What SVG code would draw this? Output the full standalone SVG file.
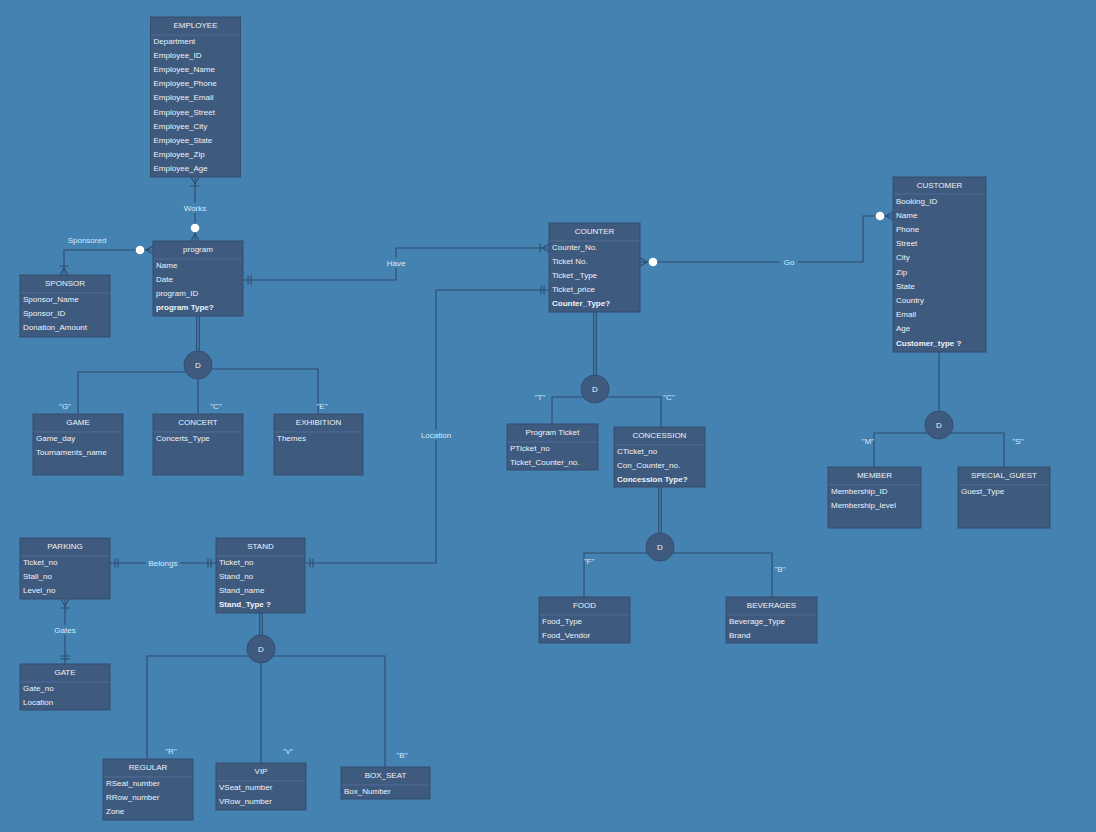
<svg xmlns="http://www.w3.org/2000/svg" width="1096" height="832" viewBox="0 0 1096 832">
  <style>
    text { font-family: "Liberation Sans", Arial, sans-serif; font-size: 8px; dominant-baseline: central; }
    .box { fill: #3f5a7f; stroke: #344d70; stroke-width: 1; }
    .sep { stroke: #56709a; stroke-width: 0.8; }
    .hd { fill: #eef3f8; text-anchor: middle; }
    .at { fill: #eef3f8; }
    .b { font-weight: bold; }
    .ln { fill: none; stroke: #2f4a6c; stroke-width: 1.1; }
    .lbl { fill: #d3eaff; text-anchor: middle; }
    .lblbg { fill: #4382b1; }
    .isa { fill: #3f5a7f; stroke: #344d70; stroke-width: 1; }
  </style>
  <defs>
    <!-- crow's foot with bar: one or many -->
    <marker id="oneMany" markerUnits="userSpaceOnUse" viewBox="-12 -6 13 12" refX="0" refY="0" markerWidth="13" markerHeight="12" orient="auto-start-reverse" overflow="visible">
      <path d="M0,-4 L-7,0 L0,4 M-9,-4.5 L-9,4.5" fill="none" stroke="#2f4a6c" stroke-width="1.1"/>
    </marker>
    <!-- crow's foot with circle: zero or many -->
    <marker id="zeroMany" markerUnits="userSpaceOnUse" viewBox="-18 -6 19 12" refX="0" refY="0" markerWidth="19" markerHeight="12" orient="auto-start-reverse" overflow="visible">
      <path d="M0,-4 L-7,0 L0,4" fill="none" stroke="#2f4a6c" stroke-width="1.1"/>
      <circle cx="-13" cy="0" r="4.3" fill="#ffffff"/>
    </marker>
    <!-- double bar: one and only one -->
    <marker id="oneOne" markerUnits="userSpaceOnUse" viewBox="-12 -6 13 12" refX="0" refY="0" markerWidth="13" markerHeight="12" orient="auto-start-reverse" overflow="visible">
      <path d="M-5,-4.5 L-5,4.5 M-8,-4.5 L-8,4.5" fill="none" stroke="#2f4a6c" stroke-width="1.1"/>
    </marker>
  </defs>

  <rect x="0" y="0" width="1096" height="832" fill="#4382b1"/>

  <!-- relationship and hierarchy connectors -->
  <g id="connectors">
    <path class="ln" d="M195,177 L195,241" marker-start="url(#oneMany)" marker-end="url(#zeroMany)"/>
    <path class="ln" d="M153,250 L64,250 L64,275" marker-start="url(#zeroMany)" marker-end="url(#oneMany)"/>
    <path class="ln" d="M243,280 L396,280 L396,248 L549,248" marker-start="url(#oneOne)" marker-end="url(#oneMany)"/>
    <path class="ln" d="M305,563 L436,563 L436,290 L549,290" marker-start="url(#oneOne)" marker-end="url(#oneOne)"/>
    <path class="ln" d="M640,262 L863,262 L863,216 L893,216" marker-start="url(#zeroMany)" marker-end="url(#zeroMany)"/>
    <path class="ln" d="M110,563 L216,563" marker-start="url(#oneOne)" marker-end="url(#oneOne)"/>
    <path class="ln" d="M65,599 L65,664" marker-start="url(#oneMany)" marker-end="url(#oneOne)"/>

    <!-- program subtypes -->
    <path class="ln" d="M196.7,316 L196.7,352 M199.3,316 L199.3,352"/>
    <path class="ln" d="M198,372 L78,372 L78,414 M198,365 L198,414 M198,369 L318,369 L318,414"/>
    <!-- counter subtypes -->
    <path class="ln" d="M593.7,312 L593.7,376 M596.3,312 L596.3,376"/>
    <path class="ln" d="M595,397 L552,397 L552,424 M595,397 L661,397 L661,427"/>
    <!-- customer subtypes -->
    <path class="ln" d="M939,352 L939,412"/>
    <path class="ln" d="M939,433 L874,433 L874,467 M939,433 L1004,433 L1004,467"/>
    <!-- concession subtypes -->
    <path class="ln" d="M658.7,487 L658.7,534 M661.3,487 L661.3,534"/>
    <path class="ln" d="M660,553 L584,553 L584,597 M660,553 L772,553 L772,597"/>
    <!-- stand subtypes -->
    <path class="ln" d="M259.7,613 L259.7,636 M262.3,613 L262.3,636"/>
    <path class="ln" d="M261,656 L147,656 L147,759 M261,649 L261,763 M261,656 L385,656 L385,767"/>

    <!-- relationship labels -->
    <rect class="lblbg" x="181" y="203" width="28" height="10"/>
    <text class="lbl" x="195" y="208">Works</text>
    <text class="lbl" x="87" y="240">Sponsored</text>
    <rect class="lblbg" x="384" y="258" width="24" height="10"/>
    <text class="lbl" x="396" y="263">Have</text>
    <rect class="lblbg" x="418" y="430" width="36" height="10"/>
    <text class="lbl" x="436" y="435">Location</text>
    <rect class="lblbg" x="780" y="257" width="18" height="10"/>
    <text class="lbl" x="789" y="262">Go</text>
    <rect class="lblbg" x="146" y="558" width="34" height="10"/>
    <text class="lbl" x="163" y="563">Belongs</text>
    <rect class="lblbg" x="51" y="625" width="28" height="10"/>
    <text class="lbl" x="65" y="630">Gates</text>

    <!-- discriminator values -->
    <text class="lbl" x="65" y="406">"G"</text>
    <text class="lbl" x="216" y="406">"C"</text>
    <text class="lbl" x="322" y="406">"E"</text>
    <text class="lbl" x="540" y="397">"T"</text>
    <text class="lbl" x="669" y="397">"C"</text>
    <text class="lbl" x="868" y="441">"M"</text>
    <text class="lbl" x="1018" y="441">"S"</text>
    <text class="lbl" x="589" y="561">"F"</text>
    <text class="lbl" x="780" y="569">"B"</text>
    <text class="lbl" x="171" y="751">"R"</text>
    <text class="lbl" x="288" y="751">"v"</text>
    <text class="lbl" x="402" y="755">"B"</text>
  </g>

  <!-- disjoint specialisation circles -->
  <g id="isa-program"><circle class="isa" cx="198" cy="365" r="14"/><text class="hd" x="198" y="365">D</text></g>
  <g id="isa-counter"><circle class="isa" cx="595" cy="389" r="14"/><text class="hd" x="595" y="389">D</text></g>
  <g id="isa-customer"><circle class="isa" cx="939" cy="425" r="14"/><text class="hd" x="939" y="425">D</text></g>
  <g id="isa-concession"><circle class="isa" cx="660" cy="547" r="14"/><text class="hd" x="660" y="547">D</text></g>
  <g id="isa-stand"><circle class="isa" cx="261" cy="649" r="14"/><text class="hd" x="261" y="649">D</text></g>

  <!-- entities -->
  <g id="employee">
    <rect class="box" x="150.5" y="17" width="90" height="160"/>
    <line class="sep" x1="151" y1="35" x2="240" y2="35"/>
    <text class="hd" x="195.5" y="25">EMPLOYEE</text>
    <text class="at" x="153.5" y="41">Department</text>
    <text class="at" x="153.5" y="55.2">Employee_ID</text>
    <text class="at" x="153.5" y="69.4">Employee_Name</text>
    <text class="at" x="153.5" y="83.6">Employee_Phone</text>
    <text class="at" x="153.5" y="97.8">Employee_Email</text>
    <text class="at" x="153.5" y="112">Employee_Street</text>
    <text class="at" x="153.5" y="126.2">Employee_City</text>
    <text class="at" x="153.5" y="140.4">Employee_State</text>
    <text class="at" x="153.5" y="154.6">Employee_Zip</text>
    <text class="at" x="153.5" y="168.8">Employee_Age</text>
  </g>

  <g id="program">
    <rect class="box" x="153" y="241" width="90" height="75"/>
    <line class="sep" x1="153.5" y1="259" x2="242.5" y2="259"/>
    <text class="hd" x="198" y="249">program</text>
    <text class="at" x="156" y="265">Name</text>
    <text class="at" x="156" y="279.2">Date</text>
    <text class="at" x="156" y="293.4">program_ID</text>
    <text class="at b" x="156" y="307.6">program Type?</text>
  </g>

  <g id="sponsor">
    <rect class="box" x="20" y="275" width="90" height="62"/>
    <line class="sep" x1="20.5" y1="293" x2="109.5" y2="293"/>
    <text class="hd" x="65" y="283.5">SPONSOR</text>
    <text class="at" x="23" y="299">Sponsor_Name</text>
    <text class="at" x="23" y="313.2">Sponsor_ID</text>
    <text class="at" x="23" y="327.4">Donation_Amount</text>
  </g>

  <g id="counter">
    <rect class="box" x="549" y="223" width="91" height="89"/>
    <line class="sep" x1="549.5" y1="241" x2="639.5" y2="241"/>
    <text class="hd" x="594.5" y="231">COUNTER</text>
    <text class="at" x="552" y="247">Counter_No.</text>
    <text class="at" x="552" y="261.2">Ticket No.</text>
    <text class="at" x="552" y="275.4">Ticket _Type</text>
    <text class="at" x="552" y="289.6">Ticket_price</text>
    <text class="at b" x="552" y="303.8">Counter_Type?</text>
  </g>

  <g id="customer">
    <rect class="box" x="893" y="177" width="93" height="175"/>
    <line class="sep" x1="893.5" y1="194" x2="985.5" y2="194"/>
    <text class="hd" x="939.5" y="185">CUSTOMER</text>
    <text class="at" x="896" y="201">Booking_ID</text>
    <text class="at" x="896" y="215.2">Name</text>
    <text class="at" x="896" y="229.4">Phone</text>
    <text class="at" x="896" y="243.6">Street</text>
    <text class="at" x="896" y="257.8">City</text>
    <text class="at" x="896" y="272">Zip</text>
    <text class="at" x="896" y="286.2">State</text>
    <text class="at" x="896" y="300.4">Country</text>
    <text class="at" x="896" y="314.6">Email</text>
    <text class="at" x="896" y="328.8">Age</text>
    <text class="at b" x="896" y="343">Customer_type ?</text>
  </g>

  <g id="game">
    <rect class="box" x="33" y="414" width="90" height="61"/>
    <line class="sep" x1="33.5" y1="432" x2="122.5" y2="432"/>
    <text class="hd" x="78" y="422">GAME</text>
    <text class="at" x="36" y="438">Game_day</text>
    <text class="at" x="36" y="452.2">Tournaments_name</text>
  </g>

  <g id="concert">
    <rect class="box" x="153" y="414" width="90" height="61"/>
    <line class="sep" x1="153.5" y1="432" x2="242.5" y2="432"/>
    <text class="hd" x="198" y="422">CONCERT</text>
    <text class="at" x="156" y="438">Concerts_Type</text>
  </g>

  <g id="exhibition">
    <rect class="box" x="274" y="414" width="89" height="61"/>
    <line class="sep" x1="274.5" y1="432" x2="362.5" y2="432"/>
    <text class="hd" x="318.5" y="422">EXHIBITION</text>
    <text class="at" x="277" y="438">Themes</text>
  </g>

  <g id="program-ticket">
    <rect class="box" x="507" y="424" width="91" height="46"/>
    <line class="sep" x1="507.5" y1="442" x2="597.5" y2="442"/>
    <text class="hd" x="552.5" y="432">Program Ticket</text>
    <text class="at" x="510" y="448">PTicket_no</text>
    <text class="at" x="510" y="462.2">Ticket_Counter_no.</text>
  </g>

  <g id="concession">
    <rect class="box" x="614" y="427" width="91" height="60"/>
    <line class="sep" x1="614.5" y1="445" x2="704.5" y2="445"/>
    <text class="hd" x="659.5" y="435">CONCESSION</text>
    <text class="at" x="617" y="451">CTicket_no</text>
    <text class="at" x="617" y="465.2">Con_Counter_no.</text>
    <text class="at b" x="617" y="479.4">Concession Type?</text>
  </g>

  <g id="member">
    <rect class="box" x="828" y="467" width="93" height="61"/>
    <line class="sep" x1="828.5" y1="485" x2="920.5" y2="485"/>
    <text class="hd" x="874.5" y="475">MEMBER</text>
    <text class="at" x="831" y="491">Membership_ID</text>
    <text class="at" x="831" y="505.2">Membership_level</text>
  </g>

  <g id="special-guest">
    <rect class="box" x="958" y="467" width="92" height="61"/>
    <line class="sep" x1="958.5" y1="485" x2="1049.5" y2="485"/>
    <text class="hd" x="1004" y="475">SPECIAL_GUEST</text>
    <text class="at" x="961" y="491">Guest_Type</text>
  </g>

  <g id="parking">
    <rect class="box" x="20" y="538" width="90" height="61"/>
    <line class="sep" x1="20.5" y1="556" x2="109.5" y2="556"/>
    <text class="hd" x="65" y="546.5">PARKING</text>
    <text class="at" x="23" y="562">Ticket_no</text>
    <text class="at" x="23" y="576.2">Stall_no</text>
    <text class="at" x="23" y="590.4">Level_no</text>
  </g>

  <g id="stand">
    <rect class="box" x="216" y="538" width="89" height="75"/>
    <line class="sep" x1="216.5" y1="556" x2="304.5" y2="556"/>
    <text class="hd" x="260.5" y="546.5">STAND</text>
    <text class="at" x="219" y="562">Ticket_no</text>
    <text class="at" x="219" y="576.2">Stand_no</text>
    <text class="at" x="219" y="590.4">Stand_name</text>
    <text class="at b" x="219" y="604.6">Stand_Type ?</text>
  </g>

  <g id="gate">
    <rect class="box" x="20" y="664" width="90" height="46"/>
    <line class="sep" x1="20.5" y1="682" x2="109.5" y2="682"/>
    <text class="hd" x="65" y="672">GATE</text>
    <text class="at" x="23" y="688">Gate_no</text>
    <text class="at" x="23" y="702.2">Location</text>
  </g>

  <g id="regular">
    <rect class="box" x="103" y="759" width="90" height="61"/>
    <line class="sep" x1="103.5" y1="777" x2="192.5" y2="777"/>
    <text class="hd" x="148" y="767.5">REGULAR</text>
    <text class="at" x="106" y="783.5">RSeat_number</text>
    <text class="at" x="106" y="797.7">RRow_number</text>
    <text class="at" x="106" y="811.9">Zone</text>
  </g>

  <g id="vip">
    <rect class="box" x="216" y="763" width="90" height="47"/>
    <line class="sep" x1="216.5" y1="781" x2="305.5" y2="781"/>
    <text class="hd" x="261" y="771.5">VIP</text>
    <text class="at" x="219" y="787.5">VSeat_number</text>
    <text class="at" x="219" y="801.7">VRow_number</text>
  </g>

  <g id="box-seat">
    <rect class="box" x="341" y="767" width="89" height="32"/>
    <line class="sep" x1="341.5" y1="785" x2="429.5" y2="785"/>
    <text class="hd" x="385.5" y="775">BOX_SEAT</text>
    <text class="at" x="344" y="791">Box_Number</text>
  </g>

  <g id="food">
    <rect class="box" x="539" y="597" width="91" height="46"/>
    <line class="sep" x1="539.5" y1="615" x2="629.5" y2="615"/>
    <text class="hd" x="584.5" y="605">FOOD</text>
    <text class="at" x="542" y="621">Food_Type</text>
    <text class="at" x="542" y="635.2">Food_Vendor</text>
  </g>

  <g id="beverages">
    <rect class="box" x="726" y="597" width="91" height="46"/>
    <line class="sep" x1="726.5" y1="615" x2="816.5" y2="615"/>
    <text class="hd" x="771.5" y="605">BEVERAGES</text>
    <text class="at" x="729" y="621">Beverage_Type</text>
    <text class="at" x="729" y="635.2">Brand</text>
  </g>
</svg>
